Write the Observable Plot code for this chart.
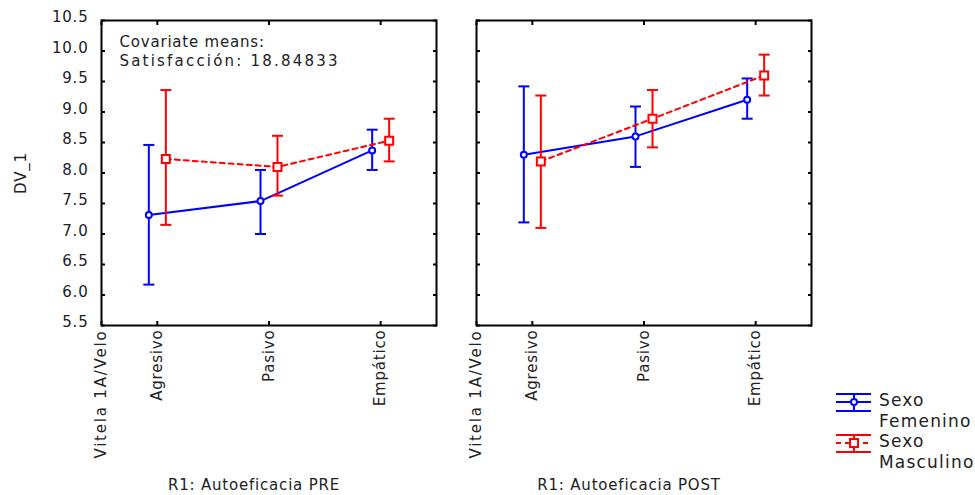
<!DOCTYPE html>
<html><head><meta charset="utf-8">
<script src="https://cdn.jsdelivr.net/npm/d3@7"></script>
<script src="https://cdn.jsdelivr.net/npm/@observablehq/plot@0.6"></script>
<style>
body{margin:0;background:#fff;width:975px;height:495px;overflow:hidden;position:relative;font-family:"DejaVu Sans",sans-serif;}
#legend{position:absolute;left:830px;top:385px;}
</style></head><body><div id="chart"></div><div id="legend"></div>
<script>
const phases = ["R1: Autoeficacia PRE", "R1: Autoeficacia POST"];
const categories = ["Agresivo", "Pasivo", "Empático"];
const firstTickLabel = "Vitela 1A/Velo";
const yTicks = [5.5, 6.0, 6.5, 7.0, 7.5, 8.0, 8.5, 9.0, 9.5, 10.0, 10.5];
const seriesKeys = ["Femenino", "Masculino"];
const seriesColors = ["#0000ff", "#ff0000"];
const legendLabels = [["Sexo", "Femenino"], ["Sexo", "Masculino"]];
const covariateLine1 = "Covariate means:";
const covariateLine2 = "Satisfacción: 18.84833";

// PRE
const femPreMean = [7.31, 7.54, 8.37];
const femPreLo   = [6.17, 7.00, 8.05];
const femPreHi   = [8.46, 8.05, 8.71];
const masPreMean = [8.23, 8.10, 8.53];
const masPreLo   = [7.15, 7.63, 8.19];
const masPreHi   = [9.36, 8.61, 8.89];
// POST
const femPostMean = [8.30, 8.60, 9.20];
const femPostLo   = [7.19, 8.10, 8.89];
const femPostHi   = [9.42, 9.09, 9.55];
const masPostMean = [8.19, 8.89, 9.60];
const masPostLo   = [7.10, 8.42, 9.27];
const masPostHi   = [9.27, 9.36, 9.94];

const groups = [
  [phases[0], 0, femPreMean, femPreLo, femPreHi],
  [phases[0], 1, masPreMean, masPreLo, masPreHi],
  [phases[1], 0, femPostMean, femPostLo, femPostHi],
  [phases[1], 1, masPostMean, masPostLo, masPostHi]
];
const table = [];
for (const [phase, s, m, lo, hi] of groups) {
  categories.forEach((c, i) => table.push({phase, sexo: seriesKeys[s], cat: c, pos: i + 0.5, mean: m[i], lo: lo[i], hi: hi[i]}));
}
const xTickValues = [0, ...categories.map((c, i) => i + 0.5)];
const xTickFormat = v => v === 0 ? firstTickLabel : categories[Math.floor(v)];

const cap = {draw(context, size) { const w = Math.sqrt(size / Math.PI); context.moveTo(-w, 0); context.lineTo(w, 0); }};

const seriesMarks = seriesKeys.flatMap((key, s) => {
  const data = table.filter(d => d.sexo === key);
  const color = seriesColors[s];
  const dx = s === 0 ? -8.5 : 8.5;
  return [
    Plot.line(data, {fx: "phase", x: "pos", y: "mean", stroke: color, strokeWidth: 2, strokeDasharray: s === 1 ? "5,4" : null, dx}),
    Plot.ruleX(data, {fx: "phase", x: "pos", y1: "lo", y2: "hi", stroke: color, strokeWidth: 2, dx}),
    Plot.dot(data, {fx: "phase", x: "pos", y: "lo", symbol: cap, r: 5.5, stroke: color, strokeWidth: 2, dx}),
    Plot.dot(data, {fx: "phase", x: "pos", y: "hi", symbol: cap, r: 5.5, stroke: color, strokeWidth: 2, dx}),
    Plot.dot(data, {fx: "phase", x: "pos", y: "mean", symbol: s === 1 ? "square" : "circle", r: s === 1 ? 4.5 : 3, fill: "white", stroke: color, strokeWidth: 2, dx})
  ];
});

const chart = Plot.plot({
  width: 975, height: 495,
  marginLeft: 100, marginRight: 163, marginTop: 20, marginBottom: 170,
  style: {fontFamily: "DejaVu Sans", fontSize: "15px", letterSpacing: "0.8px", background: "white", color: "#222"},
  fx: {domain: phases, padding: 0.106, paddingOuter: 0},
  x: {domain: [0, 3]},
  y: {domain: [5.5, 10.5]},
  marks: [
    Plot.axisY({ticks: yTicks, tickSize: 0, tickPadding: 13, tickFormat: d3.format(".1f"), dy: -3, label: "DV_1", labelAnchor: "center", labelOffset: 86, labelArrow: "none"}),
    Plot.axisY({ticks: yTicks, anchor: "left", tickSize: -4, fill: "none", label: null, facetAnchor: null, stroke: "black", strokeWidth: 2}),
    Plot.axisY({ticks: yTicks, anchor: "right", tickSize: -4, fill: "none", label: null, facetAnchor: null, stroke: "black", strokeWidth: 2}),
    Plot.axisX({ticks: xTickValues, anchor: "bottom", tickSize: -4, fill: "none", label: null, facetAnchor: null, stroke: "black", strokeWidth: 2}),
    Plot.axisX({ticks: xTickValues, anchor: "top", tickSize: -4, fill: "none", label: null, facetAnchor: null, stroke: "black", strokeWidth: 2}),
    Plot.axisX({ticks: xTickValues, anchor: "bottom", tickSize: 0, tickPadding: 4, tickRotate: -90, tickFormat: xTickFormat, label: null}),
    Plot.axisFx({anchor: "bottom", tickSize: 0, tickPadding: 154, label: null, dx: -15}),
    Plot.frame({stroke: "black", strokeWidth: 2}),
    Plot.text([{phase: phases[0], t: covariateLine1}], {fx: "phase", text: "t", frameAnchor: "top-left", dx: 18, dy: 16, fill: "#222"}),
    Plot.text([{phase: phases[0], t: covariateLine2}], {fx: "phase", text: "t", frameAnchor: "top-left", dx: 18, dy: 35, fill: "#222"}),
    ...seriesMarks
  ]
});
// fine letter-spacing tweaks on a few texts
d3.select(chart).selectAll("text").each(function() {
  const s = this.textContent;
  if (s === covariateLine2) this.setAttribute("letter-spacing", "2.2px");
  else if (s === firstTickLabel) this.setAttribute("letter-spacing", "1.8px");
});
document.getElementById("chart").appendChild(chart);

// Legend
const lg = d3.select("#legend").append("svg").attr("width", 145).attr("height", 90)
  .style("font-family", "DejaVu Sans").style("font-size", "17px").style("letter-spacing", "1.2px").style("overflow", "visible");
seriesKeys.forEach((k, s) => {
  const y0 = s === 0 ? 17 : 58;
  const c = seriesColors[s];
  const g = lg.append("g").attr("stroke", c).attr("stroke-width", 2).attr("fill", "none");
  g.append("line").attr("x1", 6).attr("x2", 41).attr("y1", y0 - 8).attr("y2", y0 - 8);
  g.append("line").attr("x1", 6).attr("x2", 41).attr("y1", y0 + 9).attr("y2", y0 + 9);
  g.append("line").attr("x1", 24).attr("x2", 24).attr("y1", y0 - 8).attr("y2", y0 + 9);
  g.append("line").attr("x1", 6).attr("x2", 41).attr("y1", y0).attr("y2", y0).attr("stroke-dasharray", s === 1 ? "5,4" : null);
  if (s === 0) g.append("circle").attr("cx", 24).attr("cy", y0).attr("r", 3).attr("fill", "white");
  else g.append("rect").attr("x", 20).attr("y", y0 - 4).attr("width", 8).attr("height", 8).attr("fill", "white");
  const t = lg.append("text").attr("fill", "#222").attr("x", 49);
  t.append("tspan").attr("x", 49).attr("y", y0 - 2 + 6).text(legendLabels[s][0]);
  t.append("tspan").attr("x", 49).attr("y", y0 + 19 + 6).text(legendLabels[s][1]);
});
</script></body></html>
